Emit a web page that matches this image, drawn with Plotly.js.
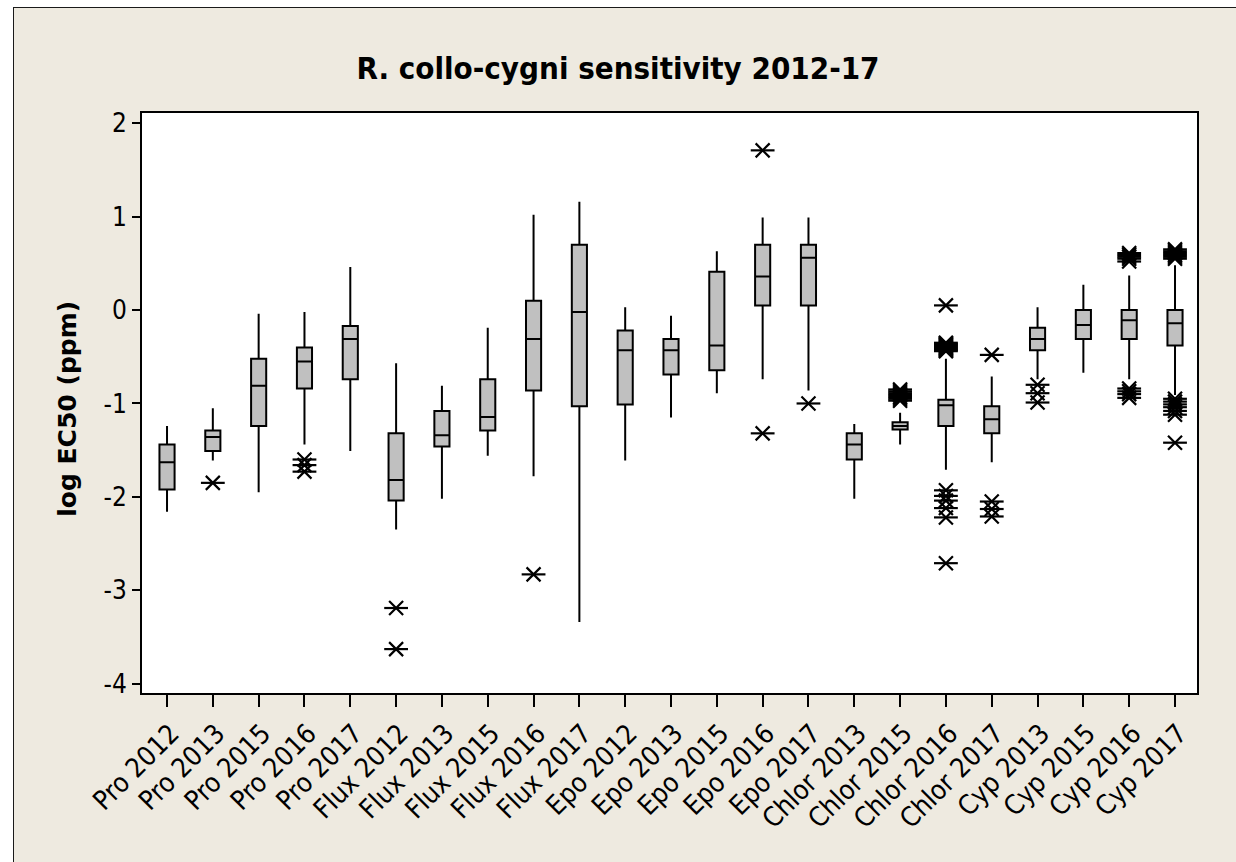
<!DOCTYPE html>
<html>
<head>
<meta charset="utf-8">
<script src="https://cdn.plot.ly/plotly-3.0.1.min.js"></script>
<style>
  html, body { margin: 0; padding: 0; background: #ffffff; overflow: hidden; }
  #frame { position: absolute; left: 13px; top: 7px; width: 1300px; height: 900px;
           background: #EEEAE0; border: 1.5px solid #1a1a1a; }
  #chart { position: absolute; left: 0; top: 0; width: 1236px; height: 862px; }
</style>
</head>
<body>
<div id="frame"></div>
<div id="chart"></div>
<script>
// ---- data ----
const categories = ["Pro 2012","Pro 2013","Pro 2015","Pro 2016","Pro 2017",
  "Flux 2012","Flux 2013","Flux 2015","Flux 2016","Flux 2017",
  "Epo 2012","Epo 2013","Epo 2015","Epo 2016","Epo 2017",
  "Chlor 2013","Chlor 2015","Chlor 2016","Chlor 2017",
  "Cyp 2013","Cyp 2015","Cyp 2016","Cyp 2017"];

const upperWhisker = [-1.24,-1.05,-0.04,-0.02, 0.46,-0.57,-0.81,-0.19, 1.02, 1.16, 0.03,-0.06, 0.63, 0.99, 0.99,-1.22,-1.10,-0.52,-0.71, 0.03, 0.27, 0.37, 0.48];
const q3           = [-1.44,-1.29,-0.52,-0.40,-0.17,-1.32,-1.08,-0.74, 0.10, 0.70,-0.22,-0.31, 0.41, 0.70, 0.70,-1.32,-1.20,-0.96,-1.03,-0.19, 0.00, 0.00, 0.00];
const medians      = [-1.63,-1.36,-0.81,-0.55,-0.31,-1.82,-1.34,-1.145,-0.31,-0.02,-0.43,-0.43,-0.38, 0.36, 0.56,-1.44,-1.24,-1.02,-1.17,-0.31,-0.16,-0.11,-0.14];
const q1           = [-1.92,-1.51,-1.24,-0.84,-0.74,-2.04,-1.46,-1.29,-0.86,-1.03,-1.01,-0.69,-0.645, 0.05, 0.05,-1.60,-1.28,-1.24,-1.32,-0.43,-0.31,-0.31,-0.38];
const lowerWhisker = [-2.16,-1.61,-1.95,-1.44,-1.51,-2.35,-2.02,-1.56,-1.78,-3.34,-1.61,-1.15,-0.89,-0.74,-0.86,-2.02,-1.44,-1.71,-1.63,-0.74,-0.67,-0.74,-0.91];

// outliers per category
const outPro2013   = [-1.85];
const outPro2016   = [-1.60,-1.66,-1.73];
const outFlux2012  = [-3.19,-3.63];
const outFlux2016  = [-2.83];
const outEpo2016   = [1.71,-1.32];
const outEpo2017   = [-1.00];
const outChlor2015 = [-0.85,-0.87,-0.89,-0.91,-0.93,-0.95,-0.97];
const outChlor2016 = [0.05,-0.35,-0.36,-0.37,-0.38,-0.39,-0.40,-0.41,-0.42,-0.43,-0.44,-1.93,-1.99,-2.04,-2.12,-2.22,-2.71];
const outChlor2017 = [-0.48,-2.05,-2.13,-2.21];
const outCyp2013   = [-0.80,-0.89,-0.99];
const outCyp2016   = [0.52,0.55,0.57,0.59,0.61,-0.84,-0.87,-0.90,-0.94];
const outCyp2017   = [0.55,0.57,0.59,0.61,0.63,0.65,-0.95,-0.98,-1.01,-1.04,-1.08,-1.12,-1.42];

const outlierGroups = [
  ["Pro 2013", outPro2013], ["Pro 2016", outPro2016], ["Flux 2012", outFlux2012],
  ["Flux 2016", outFlux2016], ["Epo 2016", outEpo2016], ["Epo 2017", outEpo2017],
  ["Chlor 2015", outChlor2015], ["Chlor 2016", outChlor2016], ["Chlor 2017", outChlor2017],
  ["Cyp 2013", outCyp2013], ["Cyp 2016", outCyp2016], ["Cyp 2017", outCyp2017]
];
const yTicks = [-4,-3,-2,-1,0,1,2];

// ---- build traces ----
const outX = [], outY = [];
outlierGroups.forEach(([c, vals]) => vals.forEach(v => { outX.push(c); outY.push(v); }));

const boxTrace = {
  type: 'box',
  x: categories,
  q1: q1, median: medians, q3: q3,
  lowerfence: lowerWhisker, upperfence: upperWhisker,
  boxpoints: false,
  width: 0.33,
  whiskerwidth: 0,
  fillcolor: '#c0c0c0',
  line: { color: '#000000', width: 2 },
  hoverinfo: 'skip',
  showlegend: false
};

// Minitab-style asterisk: an X plus a horizontal bar
const outTraceX = {
  type: 'scatter', mode: 'markers', x: outX, y: outY,
  marker: { symbol: 'x-thin-open', size: 14, color: '#000000', line: { color: '#000000', width: 2.2 } },
  hoverinfo: 'skip', showlegend: false
};
const outTraceBar = {
  type: 'scatter', mode: 'markers', x: outX, y: outY,
  marker: { symbol: 'line-ew-open', size: 17, color: '#000000', line: { color: '#000000', width: 2.2 } },
  hoverinfo: 'skip', showlegend: false
};

const fam = 'DejaVu Sans Condensed, DejaVu Sans, sans-serif';

const layout = {
  width: 1236, height: 862,
  margin: { l: 142, r: 39, t: 113, b: 169, pad: 0 },
  paper_bgcolor: 'rgba(0,0,0,0)',
  plot_bgcolor: '#ffffff',
  boxmode: 'overlay',
  showlegend: false,
  title: {
    text: '<b>R. collo-cygni sensitivity 2012-17</b>',
    font: { family: fam, size: 31, color: '#000000' },
    x: 0.5, xref: 'container', xanchor: 'center',
    y: 1 - 68/862, yref: 'container', yanchor: 'middle'
  },
  xaxis: {
    type: 'category',
    categoryorder: 'array', categoryarray: categories,
    range: [-0.546, 22.48],
    showline: true, linecolor: '#000000', linewidth: 2, mirror: true,
    ticks: 'outside', ticklen: 12, tickwidth: 2, tickcolor: '#000000',
    tickangle: -45,
    ticklabelshift: 4,
    tickfont: { family: fam, size: 27, color: '#000000' },
    showgrid: false, zeroline: false, fixedrange: true
  },
  yaxis: {
    range: [-4.10, 2.11],
    tickvals: yTicks,
    ticktext: yTicks.map(String),
    showline: true, linecolor: '#000000', linewidth: 2, mirror: true,
    ticks: 'outside', ticklen: 8, tickwidth: 2, tickcolor: '#000000',
    tickfont: { family: fam, size: 26, color: '#000000' },
    showgrid: false, zeroline: false, fixedrange: true
  },
  annotations: [{
    text: '<b>log EC50 (ppm)</b>',
    xref: 'paper', yref: 'paper',
    x: (68 - 142) / 1055, y: 0.49,
    xanchor: 'center', yanchor: 'middle',
    textangle: -90, showarrow: false,
    font: { family: 'DejaVu Sans, sans-serif', size: 25, color: '#000000' }
  }]
};

Plotly.newPlot('chart', [boxTrace, outTraceX, outTraceBar], layout, { displayModeBar: false, staticPlot: true });
</script>
</body>
</html>
